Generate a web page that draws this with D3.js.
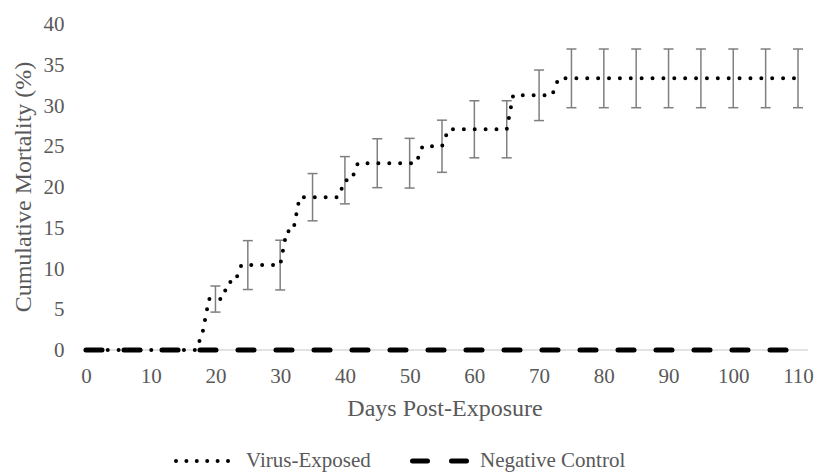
<!DOCTYPE html>
<html lang="en">
<head>
<meta charset="utf-8">
<title>Cumulative Mortality</title>
<script src="https://cdn.jsdelivr.net/npm/d3@7"></script>
<style>
  body { margin: 0; background: #fff; }
  text { font-family: "Liberation Serif", "Times New Roman", serif; fill: #595959; }
</style>
</head>
<body>
<div id="chart"></div>
<script>
// days post-exposure (one reading per day)
var days = d3.range(0, 112);

// cumulative mortality (%) of the virus-exposed group
var virusMortality = [
  0, 0, 0, 0, 0, 0, 0, 0, 0, 0,                                  // 0-9
  0, 0, 0, 0, 0, 0, 0, 0, 2.08, 6.25,                            // 10-19
  6.25, 6.25, 8.33, 8.33, 10.42, 10.42, 10.42, 10.42, 10.42, 10.42, // 20-29
  10.42, 14.58, 14.58, 18.75, 18.75, 18.75, 18.75, 18.75, 18.75, 18.75, // 30-39
  20.83, 20.83, 22.92, 22.92, 22.92, 22.92, 22.92, 22.92, 22.92, 22.92, // 40-49
  22.92, 22.92, 25, 25, 25, 25, 27.08, 27.08, 27.08, 27.08,        // 50-59
  27.08, 27.08, 27.08, 27.08, 27.08, 27.08, 31.25, 31.25, 31.25, 31.25, // 60-69
  31.25, 31.25, 31.25, 33.33, 33.33, 33.33, 33.33, 33.33, 33.33, 33.33, // 70-79
  33.33, 33.33, 33.33, 33.33, 33.33, 33.33, 33.33, 33.33, 33.33, 33.33, // 80-89
  33.33, 33.33, 33.33, 33.33, 33.33, 33.33, 33.33, 33.33, 33.33, 33.33, // 90-99
  33.33, 33.33, 33.33, 33.33, 33.33, 33.33, 33.33, 33.33, 33.33, 33.33, // 100-109
  33.33, 33.33                                                    // 110-111
];

// negative control: no mortality
var controlMortality = [
  0, 0, 0, 0, 0, 0, 0, 0, 0, 0, 0, 0, 0, 0, 0, 0, 0, 0, 0, 0,
  0, 0, 0, 0, 0, 0, 0, 0, 0, 0, 0, 0, 0, 0, 0, 0, 0, 0, 0, 0,
  0, 0, 0, 0, 0, 0, 0, 0, 0, 0, 0, 0, 0, 0, 0, 0, 0, 0, 0, 0,
  0, 0, 0, 0, 0, 0, 0, 0, 0, 0, 0, 0, 0, 0, 0, 0, 0, 0, 0, 0,
  0, 0, 0, 0, 0, 0, 0, 0, 0, 0, 0, 0, 0, 0, 0, 0, 0, 0, 0, 0,
  0, 0, 0, 0, 0, 0, 0, 0, 0, 0, 0, 0
];

// error bars (+/-) of the virus-exposed group
var errorDays = [20, 25, 30, 35, 40, 45, 50, 55, 60, 65, 70, 75, 80, 85, 90, 95, 100, 105, 110];
var errorSize = [1.6, 3.0, 3.05, 2.9, 2.9, 3.0, 3.05, 3.2, 3.5, 3.5, 3.1, 3.6, 3.6, 3.6, 3.6, 3.6, 3.6, 3.6, 3.6];

var xTicks = [0, 10, 20, 30, 40, 50, 60, 70, 80, 90, 100, 110];
var yTicks = [0, 5, 10, 15, 20, 25, 30, 35, 40];

var width = 815,
    height = 472;

var svg = d3.select("#chart")
    .append("svg")
    .attr("width", width)
    .attr("height", height);

var x = d3.scaleLinear().domain([0, 110]).range([86, 798]);
var y = d3.scaleLinear().domain([0, 40]).range([350, 24]);

// y tick labels
var yAxis = svg.append("g")
    .attr("transform", "translate(86,0)")
    .call(d3.axisLeft(y).tickValues(yTicks).tickSize(0).tickPadding(21.5));
yAxis.select(".domain").remove();
yAxis.selectAll("text").style("font-size", "21px").attr("fill", "#595959");

// x tick labels
var xAxis = svg.append("g")
    .attr("transform", "translate(0," + y(0) + ")")
    .call(d3.axisBottom(x).tickValues(xTicks).tickSize(0).tickPadding(18));
xAxis.select(".domain").remove();
xAxis.selectAll("text").style("font-size", "21px").attr("fill", "#595959");

// horizontal axis line
svg.append("line")
    .attr("x1", 83).attr("x2", 808)
    .attr("y1", y(0)).attr("y2", y(0))
    .attr("stroke", "#d9d9d9")
    .attr("stroke-width", 1.5);

var line = d3.line()
    .x(function(d) { return x(d[0]); })
    .y(function(d) { return y(d[1]); });

// negative control, long dashes
svg.append("path")
    .datum(d3.zip(days, controlMortality))
    .attr("d", line)
    .attr("fill", "none")
    .attr("stroke", "#000")
    .attr("stroke-width", 5)
    .attr("stroke-linecap", "round")
    .attr("stroke-dasharray", "16 22");

// error bars
var errorData = errorDays.map(function(d, i) {
  return { day: d, mean: virusMortality[days.indexOf(d)], err: errorSize[i] };
});

var bars = svg.append("g")
    .attr("stroke", "#7f7f7f")
    .attr("stroke-width", 1.5)
  .selectAll("g")
    .data(errorData)
  .enter().append("g");

bars.append("line")
    .attr("x1", function(d) { return x(d.day); })
    .attr("x2", function(d) { return x(d.day); })
    .attr("y1", function(d) { return y(d.mean + d.err); })
    .attr("y2", function(d) { return y(d.mean - d.err); });

bars.append("line")
    .attr("x1", function(d) { return x(d.day) - 5; })
    .attr("x2", function(d) { return x(d.day) + 5; })
    .attr("y1", function(d) { return y(d.mean + d.err); })
    .attr("y2", function(d) { return y(d.mean + d.err); });

bars.append("line")
    .attr("x1", function(d) { return x(d.day) - 5; })
    .attr("x2", function(d) { return x(d.day) + 5; })
    .attr("y1", function(d) { return y(d.mean - d.err); })
    .attr("y2", function(d) { return y(d.mean - d.err); });

// virus-exposed, round dots
svg.append("path")
    .datum(d3.zip(days, virusMortality))
    .attr("d", line)
    .attr("fill", "none")
    .attr("stroke", "#000")
    .attr("stroke-width", 4)
    .attr("stroke-linecap", "round")
    .attr("stroke-dasharray", "0 10.88");

// axis titles
svg.append("text")
    .attr("transform", "translate(31,187) rotate(-90)")
    .attr("text-anchor", "middle")
    .style("font-size", "24px")
    .text("Cumulative Mortality (%)");

svg.append("text")
    .attr("x", 445)
    .attr("y", 416)
    .attr("text-anchor", "middle")
    .style("font-size", "24px")
    .text("Days Post-Exposure");

// legend
var legend = svg.append("g");

legend.append("line")
    .attr("x1", 176).attr("x2", 229)
    .attr("y1", 461).attr("y2", 461)
    .attr("stroke", "#000")
    .attr("stroke-width", 4)
    .attr("stroke-linecap", "round")
    .attr("stroke-dasharray", "0 10.4");

legend.append("text")
    .attr("x", 246).attr("y", 467)
    .style("font-size", "21px")
    .text("Virus-Exposed");

legend.append("line")
    .attr("x1", 412.5).attr("x2", 469.5)
    .attr("y1", 461).attr("y2", 461)
    .attr("stroke", "#000")
    .attr("stroke-width", 5)
    .attr("stroke-linecap", "round")
    .attr("stroke-dasharray", "15 24");

legend.append("text")
    .attr("x", 480).attr("y", 467)
    .style("font-size", "21px")
    .text("Negative Control");
</script>
</body>
</html>
